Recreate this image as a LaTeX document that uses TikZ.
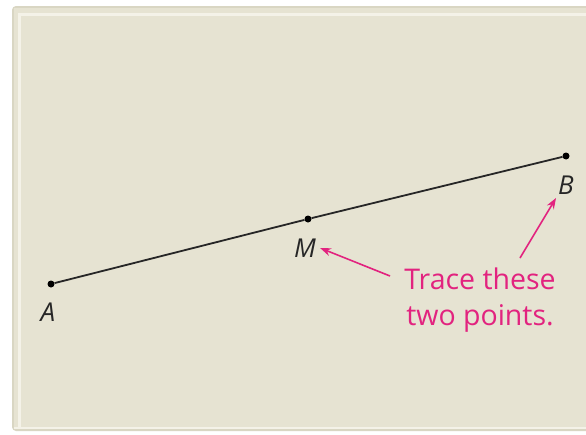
\documentclass[tikz,border=0pt]{standalone}
\usepackage{fontspec}
\setmainfont{Open Sans}
\usetikzlibrary{arrows.meta}
\definecolor{board}{HTML}{E6E3D2}
\definecolor{boardedge}{HTML}{F4F2E8}
\definecolor{boardrim}{HTML}{D9D6C3}
\definecolor{mag}{HTML}{E2237F}
\begin{document}
\begin{tikzpicture}[x=1pt,y=-1pt,
  pt/.style={circle,fill=black,inner sep=0pt,minimum size=7pt},
  lbl/.style={font=\fontsize{26}{26}\selectfont\itshape,text=black!85,inner sep=0pt},
  note/.style={font=\fontsize{28.5}{36}\selectfont,text=mag,align=center,inner sep=0pt},
  callout/.style={draw=mag,line width=1.6pt,-{Stealth[length=11pt,width=8pt]}}]
\useasboundingbox (0,0) rectangle (586,434);
\fill[white] (0,0) rectangle (586,434);
\fill[boardrim, rounded corners=4pt] (12,6) rectangle (592,431);
\fill[board] (14,8) rectangle (592,429);
\draw[boardedge, line width=3pt] (19,428) -- (19,14) -- (592,14);
\draw[boardedge, line width=2pt] (14,428) -- (592,428);
\node[pt] (A) at (51,284) {};
\node[pt] (M) at (308,219) {};
\node[pt] (B) at (566,156) {};
\draw[line width=1.8pt, black!85] (A) -- (M) -- (B);
\node[lbl] (lA) at (48,312) {A};
\node[lbl] (lM) at (305,248) {M};
\node[lbl] (lB) at (566,185) {B};
\node[note] (note) at (480,300) {Trace these\\two points.};
\coordinate (tM) at (390,276);
\coordinate (tB) at (520,258);
\draw[callout] (tM) -- ([xshift=4pt]lM.east);
\draw[callout] (tB) -- (556,198);
\end{tikzpicture}
\end{document}
